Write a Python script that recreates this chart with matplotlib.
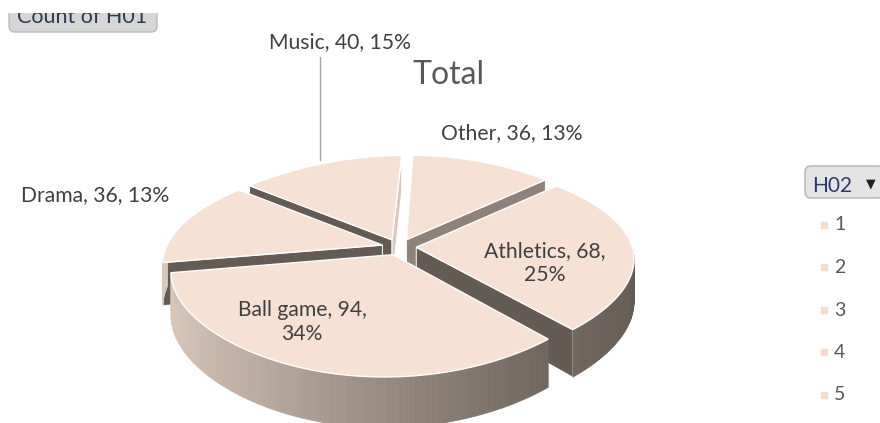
import numpy as np
import matplotlib.pyplot as plt
from matplotlib.patches import Polygon, FancyBboxPatch, Rectangle

# pivot data, slices listed clockwise from 12 o'clock
categories = ["Other", "Athletics", "Ball game", "Drama", "Music"]
counts = [36, 68, 94, 36, 40]
series_field = "H02"
series_items = ["1", "2", "3", "4", "5"]
value_field = "Count of H01"
title = "Total"

# 3-D pie layout (pixel space)
CX, CY = 399, 247
RX, RY = 216, 100
KX1, KX2 = 0.159, -0.059  # horizontal perspective (linear, quadratic)
KY = 0.16                 # vertical perspective
SH = -8                   # slight sideways lean of the far edge
H = 42                    # extrusion depth
EXPLODE = 0.08

TOP = "#f6e1d4"
DARK = np.array([100, 91, 84]) / 255
LIGHT = np.array([218, 200, 187]) / 255
FONT = ["Lato", "DejaVu Sans"]


def proj(x, y, z):
    # x right, y toward viewer, z up (0 = top face, -1 = bottom)
    fx = 1.0 + KX1 * y + KX2 * y * y
    fy = 1.0 / (1.0 - KY * y)
    return CX + RX * x * fx + SH * y, CY + (RY * y - H * z) * fy


def shade(t):
    return tuple(DARK + np.clip(t, 0, 1) * (LIGHT - DARK))


fig = plt.figure(figsize=(8.8, 4.23), dpi=100)
ax = fig.add_axes([0, 0, 1, 1])
ax.set_xlim(0, 880)
ax.set_ylim(423, 0)
ax.axis("off")

vals = np.array(counts, dtype=float)
total = vals.sum()
ends = np.cumsum(vals / total * 360)
starts = ends - vals / total * 360

slices = []
for name, v, a0, a1 in zip(categories, vals, starts, ends):
    am = np.radians((a0 + a1) / 2)
    ox, oy = EXPLODE * np.sin(am), -EXPLODE * np.cos(am)
    th = np.radians(np.linspace(a0, a1, 90))
    slices.append(dict(name=name, a0=np.radians(a0), a1=np.radians(a1),
                       ox=ox, oy=oy, th=th))

z = 1
# side walls, back slices first
for s in sorted(slices, key=lambda s: s["oy"]):
    ox, oy, th = s["ox"], s["oy"], s["th"]
    # radial cut faces
    for ang, sign in ((s["a0"], -1), (s["a1"], 1)):
        nx, ny = sign * np.cos(ang), sign * np.sin(ang)
        px, py = ox + 0.5 * np.sin(ang), oy - 0.5 * np.cos(ang)
        if nx * (-px) + ny * (1 / KY - py) <= 0:
            continue
        rx, ry = ox + np.sin(ang), oy - np.cos(ang)
        pts = [proj(ox, oy, 0), proj(rx, ry, 0), proj(rx, ry, -1), proj(ox, oy, -1)]
        t = np.clip((nx - 0.2) / 0.8, 0, 1) ** 2
        ax.add_patch(Polygon(pts, closed=True, fc=shade(t), ec="white",
                             lw=0.7, zorder=z))
        z += 1
    # curved outer wall
    for ta, tb in zip(th[:-1], th[1:]):
        tm = (ta + tb) / 2
        if -np.cos(tm) <= 0:
            continue
        pts = [proj(ox + np.sin(ta), oy - np.cos(ta), 0),
               proj(ox + np.sin(tb), oy - np.cos(tb), 0),
               proj(ox + np.sin(tb), oy - np.cos(tb), -1),
               proj(ox + np.sin(ta), oy - np.cos(ta), -1)]
        c = shade(((1 - np.sin(tm)) / 2) ** 1.2)
        ax.add_patch(Polygon(pts, closed=True, fc=c, ec=c, lw=0.5, zorder=z))
    z += 1

# top faces
for s in slices:
    ox, oy, th = s["ox"], s["oy"], s["th"]
    pts = [proj(ox, oy, 0)] + [proj(ox + np.sin(t), oy - np.cos(t), 0) for t in th]
    ax.add_patch(Polygon(pts, closed=True, fc=TOP, ec="white", lw=1.0, zorder=50))

# data labels
label_pos = {
    "Music": (340, 42, False),
    "Other": (512, 133, False),
    "Drama": (95, 195, False),
    "Athletics": (545, 263, True),
    "Ball game": (302, 322, True),
}
for name, v in zip(categories, counts):
    pct = round(v / total * 100)
    x, y, wrap = label_pos[name]
    txt = f"{name}, {v},\n{pct}%" if wrap else f"{name}, {v}, {pct}%"
    ax.text(x, y, txt, ha="center", va="center", fontsize=15.2, color="#404040",
            family=FONT, linespacing=1.3, zorder=60)

# leader line for the Music label
ax.plot([320, 320], [57, 160], color="#a6a6a6", lw=1, zorder=55)

ax.text(449, 75, title, ha="center", va="center", fontsize=23, color="#595959",
        family=FONT, zorder=60)

# pivot field buttons
ax.add_patch(FancyBboxPatch((9, -20), 148, 52, boxstyle="round,pad=0,rounding_size=6",
                            fc="#d6d6d6", ec="#bcbcbc", lw=1, zorder=60))
ax.text(82, 23, value_field, ha="center", va="baseline", fontsize=15.5, color="#2e3a4e",
        family=FONT, zorder=61)
ax.add_patch(Rectangle((0, -5), 200, 18, fc="white", ec="none", zorder=70))

ax.add_patch(FancyBboxPatch((805, 166), 80, 32, boxstyle="round,pad=0,rounding_size=6",
                            fc="#e4e4e4", ec="#b4b4b4", lw=1, zorder=60))
ax.text(812, 186, series_field, ha="left", va="center", fontsize=15, color="#2e3a6e",
        family=FONT, zorder=61)
ax.text(871, 184, "\u25bc", ha="center", va="center", fontsize=9, color="#202020",
        family="DejaVu Sans", zorder=61)

leg_y = np.linspace(225, 395, len(series_items))
ax.scatter(np.full(len(series_items), 824), leg_y, marker="s", s=20, color="#f7dccf",
           zorder=61)
for item, y in zip(series_items, leg_y):
    ax.text(834, y, item, ha="left", va="center", fontsize=14, color="#595959",
            family=FONT, zorder=61)

fig.savefig("out.png", dpi=100)
